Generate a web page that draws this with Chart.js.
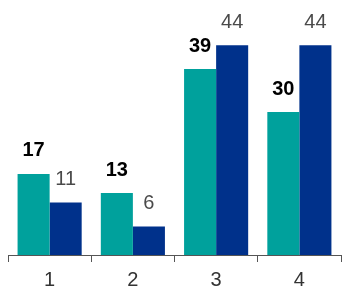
<!DOCTYPE html>
<html>
<head>
<meta charset="utf-8">
<script src="https://cdn.jsdelivr.net/npm/chart.js@4"></script>
<style>
  html, body { margin: 0; padding: 0; background: #fff; }
  #wrap { width: 342px; height: 289px; }
</style>
</head>
<body>
<div id="wrap"><canvas id="barChart"></canvas></div>
<script>
// Chart data
const categories = ['1', '2', '3', '4'];
const tealValues = [17, 13, 39, 30];
const blueValues = [11, 6, 44, 44];

// Draw value labels above each bar
const valueLabels = {
    id: 'valueLabels',
    afterDatasetsDraw(chart) {
        const ctx = chart.ctx;
        ctx.save();
        ctx.textAlign = 'center';
        ctx.textBaseline = 'bottom';
        chart.data.datasets.forEach((ds, i) => {
            const meta = chart.getDatasetMeta(i);
            ctx.font = (i === 0 ? 'bold ' : '') + '20px "Liberation Sans", Arial, sans-serif';
            ctx.fillStyle = i === 0 ? '#000' : '#4a4a4a';
            meta.data.forEach((bar, j) => {
                ctx.fillText(ds.data[j], bar.x, bar.y - 13);
            });
        });
        ctx.restore();
    }
};

document.addEventListener('DOMContentLoaded', function() {
    const ctx = document.getElementById('barChart').getContext('2d');
    new Chart(ctx, {
        type: 'bar',
        data: {
            labels: categories,
            datasets: [{
                label: 'A',
                data: tealValues,
                backgroundColor: '#00a19c'
            }, {
                label: 'B',
                data: blueValues,
                backgroundColor: '#00318b'
            }]
        },
        options: {
            responsive: true,
            maintainAspectRatio: false,
            animation: false,
            layout: { padding: { left: 8, right: 1, top: 0, bottom: -10 } },
            datasets: {
                bar: { categoryPercentage: 0.77, barPercentage: 1 }
            },
            plugins: {
                legend: { display: false },
                tooltip: { enabled: false }
            },
            scales: {
                x: {
                    grid: {
                        offset: true,
                        drawOnChartArea: false,
                        color: '#555',
                        tickLength: 7
                    },
                    border: { color: '#555', width: 1 },
                    ticks: {
                        color: '#333',
                        padding: 11.5,
                        font: { size: 20, lineHeight: 0.7, family: '"Liberation Sans", Arial, sans-serif' }
                    }
                },
                y: {
                    display: false,
                    min: 0,
                    max: 53.5
                }
            }
        },
        plugins: [valueLabels]
    });
});
</script>
</body>
</html>
